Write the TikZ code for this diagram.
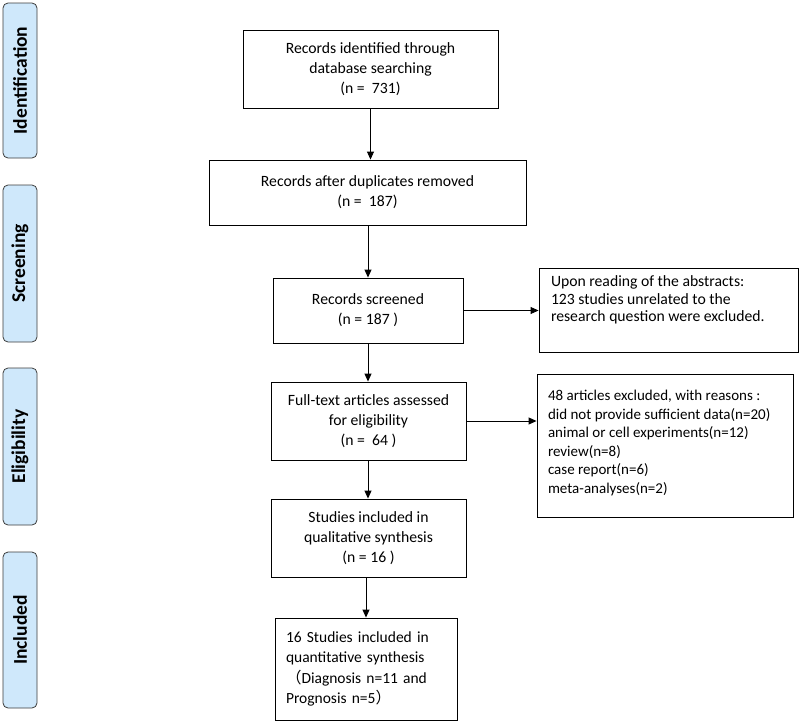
\documentclass[tikz,border=0pt]{standalone}
\usepackage{fontspec}
\setmainfont{Carlito}
\newfontfamily\cjk{Noto Sans CJK SC}
\usetikzlibrary{arrows.meta}
\definecolor{sidefill}{RGB}{207,232,251}
\definecolor{sideline}{RGB}{60,60,60}
\begin{document}
\begin{tikzpicture}[x=1pt,y=-1pt,
  box/.style={draw, line width=0.9pt, align=center, inner sep=0pt,
    font=\fontsize{15.7}{20.2}\selectfont},
  sidebox/.style={draw=sideline, fill=sidefill, rounded corners=5pt, rotate=90,
    line width=0.8pt, minimum height=34pt, inner sep=0pt,
    font=\bfseries\fontsize{19.5}{22}\selectfont},
  notebox/.style={draw, line width=0.9pt, inner xsep=12pt, inner ysep=0pt},
  arr/.style={-{Triangle[length=8pt,width=7pt]}, line width=0.9pt}]
\useasboundingbox (0,0) rectangle (800,723);

% side labels
\node[sidebox, minimum width=155pt] (sid) at (20,80.5) {Identification};
\node[sidebox, minimum width=157pt] (sscr) at (20,263.5) {Screening};
\node[sidebox, minimum width=157pt] (selig) at (20,446.5) {Eligibility};
\node[sidebox, minimum width=156pt] (sinc) at (20,630) {Included};

% main boxes
\node[box, minimum width=255pt, minimum height=78pt] (b1) at (370.5,69)
  {Records identified through\\database searching\\(n = \ 731)};
\node[box, minimum width=317pt, minimum height=65pt] (b2) at (367.5,192.5)
  {Records after duplicates removed\\(n = \ 187)};
\node[box, minimum width=190pt, minimum height=65pt] (b3) at (368,310.5)
  {Records screened\\(n = 187 )};
\node[box, minimum width=195pt, minimum height=78pt] (b4) at (368.5,421)
  {Full-text articles assessed\\for eligibility\\(n = \ 64 )};
\node[box, minimum width=195pt, minimum height=78pt] (b5) at (368.5,538)
  {Studies included in\\qualitative synthesis\\(n = 16 )};
\node[box, align=left, text width=160pt, inner xsep=11pt, minimum height=102pt,
  font=\fontsize{15.5}{20.2}\selectfont] (b6) at (366,669)
  {16 Studies included in\\quantitative synthesis\\{\cjk （}Diagnosis n=11 and\\Prognosis n=5{\cjk ）}};

% exclusion boxes
\node[notebox, font=\fontsize{15.7}{17.6}\selectfont] (r1) at (668.5,310)
  {\parbox[c][84pt][t]{235pt}{\raggedright\rule{0pt}{18.5pt}Upon reading of the abstracts:\\
   123 studies unrelated to the\\research question were excluded.}};
\node[notebox, inner xsep=11pt, font=\fontsize{15}{18.6}\selectfont] (r2) at (665,445.5)
  {\parbox[c][143pt][t]{234pt}{\raggedright\rule{0pt}{26.5pt}48 articles excluded, with reasons :\\
   did not provide sufficient data(n=20)\\animal or cell experiments(n=12)\\review(n=8)\\case report(n=6)\\meta-analyses(n=2)}};

% connectors
\draw[arr] (b1.south) -- (b1.south |- b2.north);
\draw[arr] (b2.south -| b3.north) -- (b3.north);
\draw[arr] (b3.south) -- (b4.north -| b3.south);
\draw[arr] (b4.south -| b3.south) -- (b5.north -| b3.south);
\draw[arr] (b6.north |- b5.south) -- (b6.north);
\draw[arr] (b3.east) -- (b3.east -| r1.west);
\draw[arr] (b4.east) -- (b4.east -| r2.west);
\end{tikzpicture}
\end{document}
